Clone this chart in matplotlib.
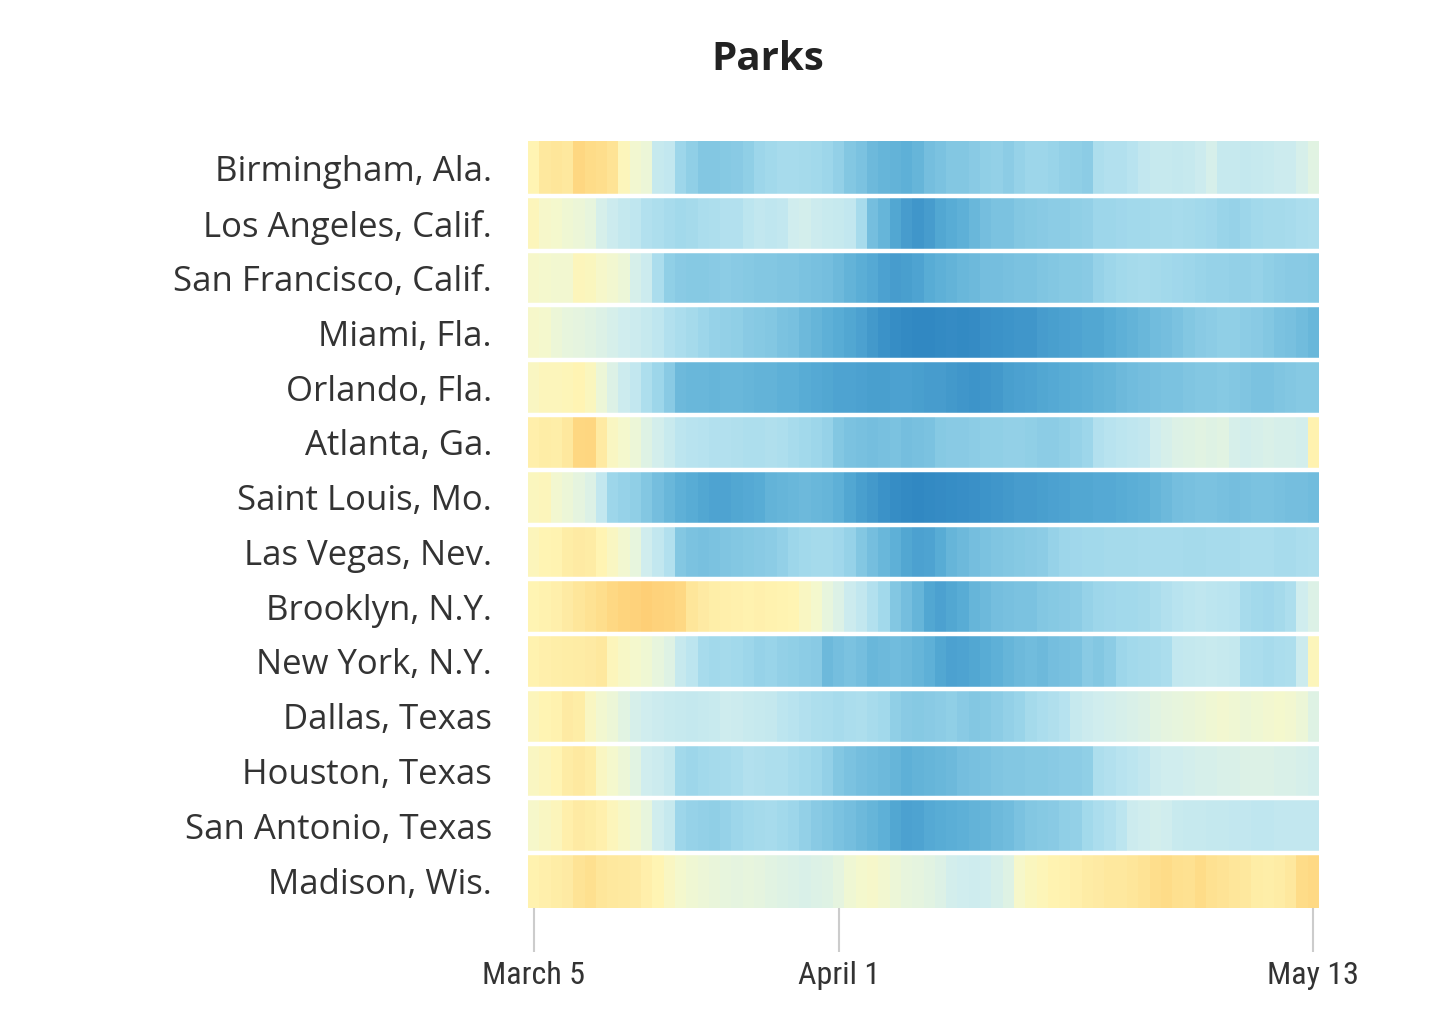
import numpy as np
import pandas as pd
import matplotlib
matplotlib.use('Agg')
import matplotlib.pyplot as plt
from matplotlib import font_manager
from matplotlib.colors import LinearSegmentedColormap, Normalize

# cities, top to bottom
cities = ['Birmingham, Ala.', 'Los Angeles, Calif.', 'San Francisco, Calif.',
          'Miami, Fla.', 'Orlando, Fla.', 'Atlanta, Ga.', 'Saint Louis, Mo.',
          'Las Vegas, Nev.', 'Brooklyn, N.Y.', 'New York, N.Y.', 'Dallas, Texas',
          'Houston, Texas', 'San Antonio, Texas', 'Madison, Wis.']

# one value per day, March 5 .. May 13 (percent change in park visits)
birmingham = [10, 20, 22, 20, 35, 30, 28, 24, 8, 2, 0, -14, -16, -30, -34,
              -38, -38, -37, -36, -34, -30, -28, -26, -26, -27, -28, -30, -33,
              -38, -40, -44, -46, -47, -48, -46, -42, -40, -38, -38, -36, -34, -33, -35,
              -32, -30, -30, -31, -33, -34, -35, -24, -22, -22, -20,
              -16, -14, -14, -15, -14, -12, -8, -14, -14, -15, -14, -13, -12, -12, -8, -4]
los_angeles = [8, 4, 3, 1, 0, -2, -8, -12, -15, -17, -22, -24, -26, -28, -27,
               -25, -24, -22, -22, -18, -16, -17, -16, -10, -9, -12, -13, -14, -16,
               -26, -42, -46, -52, -56, -58, -56, -52, -50, -48, -45, -42, -40, -40,
               -38, -37, -36, -35, -35, -34, -33,
               -30, -30, -29, -28, -28, -27, -27, -26, -27, -28, -29, -31, -32, -30,
               -28, -27, -27, -26, -25, -24]
san_francisco = [4, 3, 2, 2, 8, 7, 4, 2, 0, -8, -12, -25,
                 -34, -36, -37, -37, -36, -35, -36, -37, -38, -38, -39, -39,
                 -40, -41, -42, -44, -47, -49, -51, -54, -56, -55, -53, -50, -48, -47,
                 -45, -44, -42, -42, -41, -40, -40, -39, -38, -37, -37, -36,
                 -32, -30, -28, -27, -26, -27, -28,
                 -29, -30, -31, -32, -32, -33, -33, -32, -34, -35, -36, -36, -37]
miami = [4, 3, 0, -2, -3, -4, -6, -8, -10, -12, -14, -17, -22, -25, -27,
         -30, -32, -33, -34, -36, -37, -38, -40, -41,
         -44, -46, -48, -50, -52, -54, -57, -60,
         -63, -65, -66, -66, -65, -64, -65, -64,
         -61, -60, -59, -58, -58, -56, -55, -54, -53, -52, -52, -50,
         -48, -47, -45, -43, -42, -40, -38, -36, -35, -34, -34, -35, -36,
         -38, -40, -41, -43, -45]
orlando = [6, 8, 8, 9, 10, 7, 0, -6, -12, -16, -24, -30, -36,
           -44, -45, -45, -46, -45, -45, -46, -47, -47, -48, -48,
           -50, -51, -52, -53, -53, -54, -55, -55, -54, -54, -55, -56, -56, -57,
           -58, -59, -58, -57, -55, -54, -53, -52, -51, -50, -49, -48, -47, -46,
           -44, -43, -42, -41, -40, -40, -39, -38, -38, -37, -38, -39, -40, -40,
           -39, -38, -37, -37]
atlanta = [14, 16, 15, 20, 35, 36, 18, 6, 3, 0, -5, -9, -13,
           -18, -20, -21, -22, -22, -23, -24, -24, -23, -24, -26, -28, -30, -32,
           -38, -40, -41, -42, -41, -40, -42, -41, -40,
           -37, -36, -36, -35, -34, -34, -33, -33, -34, -35, -35, -34, -32, -30,
           -22, -20, -18, -17, -16, -10, -8, -6, -5, -4, -5, -4,
           -8, -9, -8, -7, -8, -8, -9, 12]
saint_louis = [7, 8, 2, 0, -3, -6, -16, -30, -32, -34, -38, -42, -45,
               -48, -50, -52, -53, -53, -52, -51, -50, -47, -46, -45, -44, -45, -46, -48,
               -52, -55, -57, -60, -63, -65, -66, -65, -64, -63, -62, -61,
               -59, -58, -57, -56, -56, -55, -54, -53, -52, -52, -51, -51, -50, -49, -48, -46,
               -44, -42, -41, -40, -40, -41, -42, -41, -40, -40, -41, -42, -42, -43]
las_vegas = [8, 10, 11, 16, 18, 17, 10, 6, 2, -2, -10, -16, -22,
             -38, -40, -41, -40, -39, -38, -37, -36, -35, -33,
             -30, -28, -27, -27, -29, -32, -38, -42, -45, -48, -52, -54, -53, -50,
             -46, -44, -42, -40, -39, -38, -37, -36, -35,
             -32, -30, -29, -28, -28, -27, -27, -27, -26, -26, -26, -26, -27, -27,
             -26, -26, -26, -25, -25, -25, -26, -26, -25, -24]
brooklyn = [10, 12, 14, 18, 22, 25, 28, 34, 38, 40, 42, 40, 38, 34,
            22, 18, 15, 14, 13, 12, 13, 12, 11, 10, 6, 3, -2, -6,
            -12, -16, -22, -28, -38, -42, -46, -52, -54, -52, -50,
            -46, -44, -42, -41, -40, -40, -38, -37, -36, -35,
            -32, -30, -29, -28, -28, -27, -25, -22, -20, -18, -17, -18, -19, -20,
            -26, -28, -29, -27, -24, -10, -6]
new_york = [12, 14, 15, 16, 17, 18, 20, 8, 5, 3, 1, -2, -5, -14, -18,
            -26, -28, -27, -28, -30, -32, -31, -33, -34, -35, -36,
            -44, -42, -40, -42, -45, -44, -43, -44, -46, -48,
            -52, -54, -53, -52, -50, -48, -46, -44, -43, -44, -42, -41, -40,
            -36, -38, -35, -30, -28, -27, -26, -25, -16, -15, -14, -13, -14, -15,
            -24, -25, -26, -25, -24, -12, 8]
dallas = [8, 10, 12, 18, 16, 6, 2, 0, -4,
          -8, -10, -12, -13, -14, -15, -14, -13, -11, -12, -13, -14, -15,
          -18, -20, -22, -24, -25, -26, -25, -24, -26, -28,
          -34, -36, -37, -36, -35, -34, -36, -38, -37, -35, -33, -31,
          -27, -25, -23, -21, -14, -12, -10, -9, -8, -7, -6,
          -4, -3, -2, -1, 0, 1, 2, 1, 0, 1, 2, 3, 2, 0, -5]
houston = [6, 8, 10, 17, 19, 16, 6, 3, 0, -4, -10, -12, -15,
           -28, -30, -28, -27, -26, -25, -22, -23, -24, -24, -26, -28, -30, -33,
           -38, -40, -42, -43, -44, -46, -48, -47, -46, -45, -44, -42, -41,
           -40, -39, -38, -38, -37, -37, -36, -35, -35, -34,
           -24, -22, -20, -18, -16,
           -12, -10, -10, -9, -8, -8, -7, -7, -6, -6, -6, -7, -7, -8, -9]
san_antonio = [4, 6, 8, 14, 18, 16, 13, 8, 5, 2, -2, -10, -14,
               -30, -32, -33, -34, -32, -30, -28, -27, -26, -28, -30, -33, -36, -38,
               -40, -42, -44, -46, -48, -52, -54, -53, -51, -50, -49,
               -48, -47, -46, -44, -43, -40, -38, -37, -36, -34, -33,
               -28, -25, -22, -18, -12, -10, -9, -10,
               -13, -14, -14, -15, -15, -16, -16, -17, -17, -16, -16, -16, -16]
madison = [12, 14, 16, 18, 24, 27, 22, 20, 19, 18, 14, 10, 6, 3,
           1, 0, -1, -2, -3, -2, -3, -4, -5, -6, -7, -6, -5, -3,
           1, 3, 4, 2, 0, -2, -3, -4, -6, -9, -10, -11, -10, -8, -5,
           4, 7, 9, 11, 12, 14, 17, 18, 20, 20, 22, 24,
           28, 30, 27, 26, 30, 26, 24, 22, 20, 16, 15, 17, 20, 30, 33]

tick_days = ['2020-03-05', '2020-04-01', '2020-05-13']
tick_labels = ['March 5', 'April 1', 'May 13']

values = np.array([birmingham, los_angeles, san_francisco, miami, orlando, atlanta,
                   saint_louis, las_vegas, brooklyn, new_york, dallas, houston,
                   san_antonio, madison], dtype=float)
days = pd.date_range('2020-03-05', '2020-05-13', freq='D')

# blue (fewer visits) -> pale yellow -> orange (more visits)
stops = [(-70, '#2c82bf'), (-60, '#3b92c8'), (-50, '#58acd5'), (-40, '#7cc3e0'),
         (-30, '#9dd6ea'), (-20, '#b8e3ef'), (-10, '#d0edee'), (-3, '#e4f4e0'),
         (3, '#f4f8cd'), (10, '#fff4b4'), (20, '#fee89e'), (30, '#fedc88'),
         (40, '#fed27b'), (45, '#fdcb70')]
vmin, vmax = stops[0][0], stops[-1][0]
cmap = LinearSegmentedColormap.from_list(
    'parks', [((v - vmin) / (vmax - vmin), c) for v, c in stops])

# narrow face for the date labels, if one is installed
narrow = None
for f in font_manager.fontManager.ttflist:
    n = (f.name + ' ' + f.fname).lower()
    if ('narrow' in n or 'condensed' in n) and 'bold' not in n and 'italic' not in n \
            and 'oblique' not in n:
        narrow = f.fname
        if 'liberation' in n or 'arial' in n:
            break
if narrow:
    tick_font = font_manager.FontProperties(fname=narrow, size=23)
else:
    tick_font = font_manager.FontProperties(family='Liberation Sans', size=19)

fig = plt.figure(figsize=(14.4, 10.24), dpi=100)
ax = fig.add_axes([528 / 1440, 1 - 908 / 1024, (1319 - 528) / 1440, (908 - 141) / 1024])

x_edges = np.arange(len(days) + 1)
y_edges = np.arange(len(cities) + 1)
ax.pcolormesh(x_edges, y_edges, values, cmap=cmap,
              norm=Normalize(vmin=vmin, vmax=vmax), shading='flat')
ax.set_xlim(0, len(days))
ax.set_ylim(len(cities), 0)

# white gaps between rows
ax.hlines(np.arange(1, len(cities)), 0, len(days), colors='white', linewidth=3.2)

ax.set_yticks(np.arange(len(cities)) + 0.5)
ax.set_yticklabels(cities, fontsize=25, color='#333333', family=['Open Sans', 'DejaVu Sans'])
ax.tick_params(axis='y', length=0, pad=26)

tick_pos = [days.get_loc(pd.Timestamp(d)) + 0.5 for d in tick_days]
ax.set_xticks(tick_pos)
ax.set_xticklabels(tick_labels, color='#333333')
for lab in ax.get_xticklabels():
    lab.set_fontproperties(tick_font)
ax.tick_params(axis='x', length=32, width=1.5, color='#cccccc', pad=6, direction='out')

for s in ax.spines.values():
    s.set_visible(False)

fig.text(768 / 1440, 1 - 60 / 1024, 'Parks', ha='center', va='center',
         fontsize=29, fontweight='bold', color='#222222', family=['Open Sans', 'DejaVu Sans'])

fig.savefig('out.png', dpi=100, facecolor='white')
